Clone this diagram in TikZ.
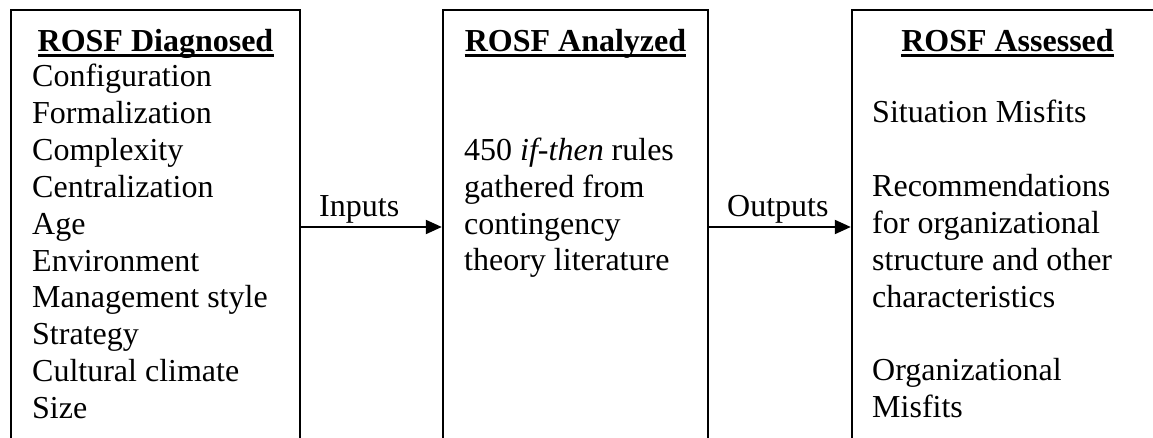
\documentclass[tikz,border=0pt]{standalone}
\usepackage{fontspec}
\setmainfont{Liberation Serif}
\usetikzlibrary{arrows.meta}
\begin{document}
\begin{tikzpicture}[x=1pt,y=-1pt,
  box/.style={draw, line width=2.5pt, inner sep=0pt, outer sep=0pt, anchor=north west, minimum height=480pt},
  txt/.style={inner sep=0pt, anchor=base west, font=\fontsize{32}{37}\selectfont},
  head/.style={inner sep=0pt, anchor=base, font=\fontsize{32}{37}\selectfont\bfseries},
  uline/.style={line width=3.5pt},
  arr/.style={line width=2pt, shorten >=1.2pt, -{Triangle[length=16pt,width=14pt]}}]
\useasboundingbox (0,0) rectangle (1153,438);
\fill[white] (0,0) rectangle (1153,438);
\clip (0,0) rectangle (1153,438);
% boxes
\node[box, minimum width=289pt] (diag) at (11,10) {};
\node[box, minimum width=265pt] (anal) at (443,10) {};
\node[box, minimum width=330pt] (asse) at (852,10) {};
% headings
\node[head] (hdiag) at (155.5,52) {ROSF Diagnosed};
\node[head] (hanal) at (575.5,52) {ROSF Analyzed};
\node[head] (hasse) at (1007.5,52) {ROSF Assessed};
\foreach \h in {hdiag,hanal,hasse}
  \draw[uline] ([yshift=-3.5pt]\h.base west) -- ([yshift=-3.5pt]\h.base east);
% left list
\foreach \t [count=\i from 0] in {Configuration,Formalization,Complexity,Centralization,Age,Environment,Management style,Strategy,Cultural climate,Size}
  \node[txt] (d\i) at (32,{87+36.8*\i}) {\t};
% middle text
\node[txt] (a0) at (464,160.5) {450 \textit{if-then} rules};
\node[txt] (a1) at (464,197.3) {gathered from};
\node[txt] (a2) at (464,234.1) {contingency};
\node[txt] (a3) at (464,270.9) {theory literature};
% right text
\node[txt] (s0) at (872,123) {Situation Misfits};
\node[txt] (s2) at (872,196.6) {Recommendations};
\node[txt] (s3) at (872,233.4) {for organizational};
\node[txt] (s4) at (872,270.2) {structure and other};
\node[txt] (s5) at (872,307) {characteristics};
\node[txt] (s7) at (872,380.6) {Organizational};
\node[txt] (s8) at (872,417.4) {Misfits};
% connectors
\coordinate (ya) at (0,227);
\draw[arr] (diag.east |- ya) -- (anal.west |- ya);
\draw[arr] (anal.east |- ya) -- (asse.west |- ya);
\node[txt] (lin) at (319,217) {Inputs};
\node[txt] (lout) at (727,217) {Outputs};
\end{tikzpicture}
\end{document}
